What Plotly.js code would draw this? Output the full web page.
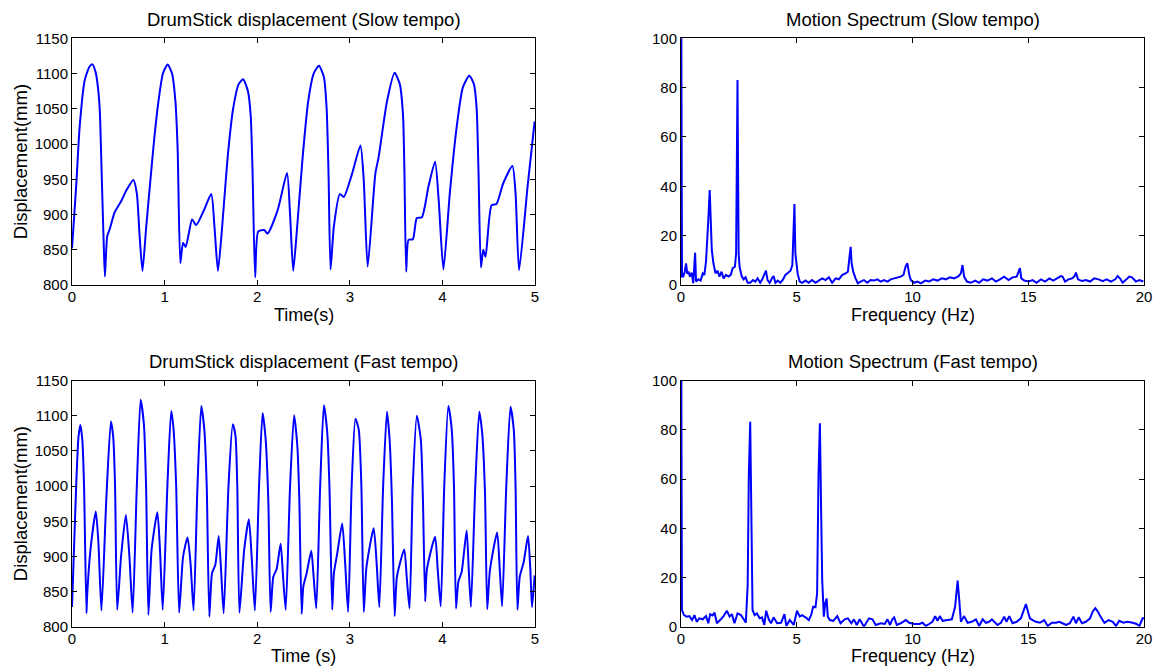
<!DOCTYPE html>
<html>
<head>
<meta charset="utf-8">
<script src="https://cdn.plot.ly/plotly-3.0.1.min.js"></script>
<style>html,body{margin:0;padding:0;background:#fff;}#chart{width:1154px;height:668px;}</style>
</head>
<body>
<div id="chart"></div>
<script>
// ---- Slow tempo displacement (time s, displacement mm) ----
var slowT = [0.000,0.045,0.083,0.138,0.190,0.221,0.255,0.283,0.301,0.320,0.340,0.355,
0.380,0.409,0.460,0.535,0.590,0.663,0.700,0.730,0.761,
0.800,0.844,0.890,0.935,0.982,1.033,1.080,1.116,1.141,1.170,
1.199,1.228,1.297,1.341,1.424,1.504,1.540,1.576,
1.620,1.680,1.740,1.800,1.848,1.900,1.930,1.950,1.978,
2.011,2.076,2.112,2.221,2.322,2.355,2.389,
2.430,2.490,2.550,2.610,2.667,2.720,2.750,2.770,2.792,
2.828,2.892,2.936,3.025,3.115,3.150,3.193,
3.276,3.312,3.401,3.484,3.540,3.575,3.590,3.609,
3.634,3.681,3.724,3.778,3.850,3.921,3.960,4.011,
4.080,4.155,4.220,4.290,4.340,4.370,4.390,4.416,
4.441,4.466,4.530,4.584,4.656,4.756,4.790,4.828,
4.920,4.996];
var slowV = [852,940,1025,1091,1110,1113,1102,1077,1045,960,870,812,
869,880,903,920,935,949,930,870,820,
880,945,1010,1062,1100,1113,1100,1062,992,831,
860,854,893,885,906,929,880,820,
880,980,1050,1085,1092,1075,1040,960,811,
876,878,873,906,959,900,820,
880,980,1060,1100,1111,1095,1050,960,822,
883,929,925,958,998,950,826,
958,982,1060,1101,1085,1040,960,819,
864,865,895,896,940,975,920,822,
930,1025,1080,1097,1085,1050,960,825,
850,840,913,915,944,969,930,821,
940,1032];

// ---- Fast tempo displacement ----
var fastT = [0.000,0.045,0.070,0.090,0.112,0.130,0.156,
0.163,0.200,0.257,0.285,0.318,
0.370,0.420,0.445,0.465,0.488,
0.530,0.582,0.620,0.655,
0.700,0.741,0.777,0.800,0.825,
0.860,0.922,0.950,0.980,
1.030,1.071,1.096,1.125,1.157,
1.200,1.248,1.280,1.313,
1.355,1.396,1.429,1.455,1.483,
1.512,1.548,1.584,1.610,1.638,
1.690,1.736,1.765,1.785,1.808,
1.860,1.910,1.940,1.975,
2.020,2.058,2.090,2.120,2.145,
2.174,2.210,2.253,2.280,2.308,
2.355,2.398,2.434,2.455,2.480,
2.498,2.534,2.584,2.610,2.638,
2.680,2.720,2.756,2.780,2.810,
2.828,2.864,2.918,2.950,2.982,
3.020,3.061,3.097,3.125,3.151,
3.180,3.258,3.290,3.319,
3.360,3.401,3.430,3.455,3.484,
3.509,3.588,3.615,3.645,
3.680,3.724,3.767,3.790,3.814,
3.832,3.921,3.950,3.982,
4.020,4.064,4.100,4.125,4.147,
4.172,4.208,4.262,4.285,4.308,
4.355,4.398,4.430,4.460,4.484,
4.513,4.591,4.620,4.645,
4.690,4.735,4.771,4.790,4.810,
4.835,4.878,4.925,4.950,4.968,
4.996];
var fastV = [828,1000,1070,1087,1065,1000,819,
843,910,964,920,823,
980,1092,1070,1000,824,
900,959,900,820,
1000,1123,1087,1000,817,
910,963,910,824,
1000,1107,1082,1000,820,
900,927,890,823,
1000,1114,1080,1000,814,
876,888,929,880,819,
1000,1088,1072,1000,820,
910,953,900,823,
1000,1104,1069,980,821,
871,882,918,870,824,
1000,1101,1056,980,818,
857,876,908,870,826,
1000,1115,1077,1000,824,
876,904,947,890,821,
1000,1096,1080,1000,821,
885,940,890,828,
1000,1106,1066,980,815,
871,910,870,826,
1000,1100,1066,980,836,
881,928,880,829,
1000,1114,1082,1000,826,
864,878,937,880,828,
1000,1106,1075,990,825,
880,934,880,829,
1000,1113,1080,1000,824,
871,892,929,880,828,
873];

// ---- Slow tempo spectrum (Hz, magnitude) ----
var slowF = [0,0.043,0.10,0.16,0.22,0.27,0.32,0.39,0.46,0.53,0.61,0.65,0.75,0.85,0.94,1.01,1.08,1.14,1.18,1.24,1.29,1.33,1.40,1.49,1.58,1.66,1.75,1.84,1.94,2.05,2.15,2.23,2.33,2.38,2.44,2.49,2.53,2.62,2.70,2.79,2.88,2.99,3.11,3.21,3.31,3.42,3.51,3.60,3.67,3.74,3.83,3.93,4.00,4.08,4.18,4.29,4.41,4.51,4.61,4.73,4.81,4.86,4.90,4.94,4.99,5.04,5.13,5.23,5.38,5.52,5.66,5.81,5.95,6.10,6.24,6.39,6.53,6.68,6.82,6.97,7.11,7.21,7.28,7.33,7.37,7.44,7.54,7.64,7.76,7.90,8.05,8.19,8.34,8.48,8.63,8.77,8.92,9.06,9.21,9.35,9.49,9.61,9.70,9.78,9.86,9.93,10.07,10.22,10.36,10.55,10.72,10.89,11.08,11.27,11.44,11.61,11.80,11.99,12.09,12.16,12.23,12.35,12.52,12.71,12.88,13.05,13.24,13.43,13.60,13.78,13.96,14.15,14.32,14.50,14.58,14.64,14.70,14.83,15.01,15.19,15.36,15.55,15.73,15.91,16.08,16.27,16.41,16.48,16.59,16.74,16.89,16.99,17.06,17.15,17.32,17.49,17.67,17.85,18.04,18.21,18.39,18.57,18.76,18.86,18.96,19.08,19.25,19.37,19.48,19.65,19.80,19.97];
var slowA = [150,3.4,3.4,5.4,8.8,4.5,5.4,3.4,5.0,0.7,13.1,1.4,2.3,1.8,4.7,4.1,9.5,18.2,26.4,38.5,21,14.2,8.8,4.7,5.8,3.4,5.4,2.7,4.1,3.4,4.1,6.8,7.4,12.8,83.1,12.8,7.4,3.6,2.3,3.1,0.9,0.9,2.0,1.4,2.7,0.9,2.3,4.7,5.8,2.0,0.9,2.7,3.6,0.9,1.8,0.9,2.3,4.1,5.0,5.8,8.1,18.2,32.8,12.8,6.8,4.5,1.4,0.9,1.8,0.9,2.0,0.9,1.8,2.7,2.0,3.1,0.9,2.7,2.3,4.1,4.7,5.4,11.5,15.5,8.8,5.4,2.7,0.7,1.4,2.0,0.9,2.0,1.8,2.3,1.4,2.0,1.4,2.3,2.7,3.1,3.4,4.1,7.4,8.8,4.1,2.0,0.9,1.4,0.7,1.8,1.4,2.3,1.8,2.7,2.3,3.1,2.7,3.6,4.7,8.1,3.4,1.4,0.9,1.8,0.9,2.3,1.8,2.7,1.4,2.3,3.4,2.0,3.1,3.4,5.0,6.8,2.7,1.8,1.4,2.0,0.9,2.3,1.4,2.7,1.8,2.7,3.6,3.4,1.4,2.3,2.7,3.4,5.0,2.3,1.6,2.0,1.4,2.7,2.3,1.6,2.3,1.4,2.3,3.6,2.7,0.9,2.3,3.4,3.1,1.4,2.0,1.4];

// ---- Fast tempo spectrum ----
var fastF = [0,0.04,0.13,0.25,0.36,0.48,0.58,0.68,0.79,0.94,1.08,1.18,1.26,1.36,1.45,1.55,1.69,1.84,1.98,2.10,2.20,2.31,2.44,2.59,2.73,2.80,2.88,2.93,2.99,3.03,3.09,3.18,3.28,3.40,3.50,3.60,3.68,3.79,3.89,4.00,4.15,4.32,4.47,4.55,4.70,4.87,5.01,5.13,5.23,5.38,5.52,5.62,5.71,5.81,5.88,5.94,6.00,6.05,6.10,6.17,6.23,6.29,6.34,6.43,6.58,6.75,6.89,7.07,7.21,7.36,7.47,7.59,7.72,7.90,8.12,8.27,8.41,8.63,8.80,8.92,9.03,9.13,9.21,9.32,9.49,9.71,9.86,10.07,10.29,10.43,10.58,10.72,10.86,10.98,11.08,11.18,11.30,11.51,11.70,11.84,11.95,12.02,12.09,12.23,12.38,12.56,12.74,12.88,13.03,13.17,13.31,13.43,13.57,13.67,13.82,13.96,14.06,14.18,14.32,14.50,14.68,14.78,14.90,14.99,15.07,15.19,15.33,15.50,15.69,15.84,16.02,16.20,16.34,16.48,16.63,16.80,16.95,17.06,17.18,17.32,17.49,17.67,17.78,17.90,18.01,18.14,18.29,18.47,18.65,18.79,18.93,19.11,19.29,19.51,19.68,19.80,19.94,20.0];
var fastA = [150,6.8,4.7,4.1,4.3,2.7,4.7,2.0,3.4,3.0,4.3,1.4,5.1,4.6,5.7,1.4,2.7,4.3,6.5,4.1,5.1,1.4,5.4,4.7,2.7,1.6,16.9,62,83.3,48.8,6.8,4.7,5.4,3.4,3.8,0.7,6.5,3.0,1.4,3.8,1.4,1.6,5.1,0.3,2.7,0.7,6.5,4.1,4.7,3.8,2.7,4.7,8.1,7.9,13.6,62,82.7,48.8,19.0,4.1,9.5,11.5,4.1,2.7,2.4,4.3,1.4,3.0,3.4,1.4,3.0,0.7,3.0,0,3.4,3.0,0.7,1.4,1.1,3.0,0.7,3.0,3.8,0.7,1.4,2.7,1.6,1.1,1.1,1.6,0.3,1.1,2.0,4.3,2.4,4.3,2.4,2.7,3.0,8.1,18.7,10.8,2.0,4.3,1.6,2.0,3.0,0.3,3.0,1.6,2.0,3.0,1.4,0.7,1.6,4.1,2.0,4.3,1.4,2.0,3.4,6.1,9.2,6.1,3.4,2.7,2.0,1.6,2.7,0.3,1.6,1.6,2.0,1.4,0.7,1.4,4.1,1.4,3.8,1.4,2.0,3.4,6.1,7.5,6.1,3.8,1.6,2.7,2.0,0.3,2.4,1.6,2.0,1.6,1.1,0.3,3.4,3.4];

var titles = ['DrumStick displacement (Slow tempo)','Motion Spectrum (Slow tempo)',
              'DrumStick displacement (Fast tempo)','Motion Spectrum (Fast tempo)'];
var xTitles = ['Time(s)','Frequency (Hz)','Time (s)','Frequency (Hz)'];
var yTitle = 'Displacement(mm)';

var FONT = 'Liberation Sans, Arial, Helvetica, sans-serif';
var blue = 'rgb(0,0,255)';

var traces = [
  {x: slowT, y: slowV, xaxis:'x', yaxis:'y', mode:'lines', line:{color:blue, width:2, shape:'spline', smoothing:0.6}},
  {x: slowF, y: slowA, xaxis:'x2', yaxis:'y2', mode:'lines', line:{color:blue, width:2}},
  {x: fastT, y: fastV, xaxis:'x3', yaxis:'y3', mode:'lines', line:{color:blue, width:2, shape:'spline', smoothing:0.6}},
  {x: fastF, y: fastA, xaxis:'x4', yaxis:'y4', mode:'lines', line:{color:blue, width:2}}
];

function ax(extra){
  var a = {showgrid:false, zeroline:false, showline:true, mirror:'ticks', linecolor:'#000', linewidth:1,
    ticks:'inside', ticklen:5, tickwidth:1, tickcolor:'#000', tickmode:'linear',
    tickfont:{family:FONT, size:15, color:'#000'}, fixedrange:true};
  for (var k in extra) a[k] = extra[k];
  return a;
}
var W = 1154, H = 668;
var xdL = [72/W, 535/W], xdR = [681/W, 1144/W];
var ydT = [(H-285)/H, (H-38.3)/H], ydB = [(H-626.7)/H, (H-380.7)/H];

var layout = {
  width: W, height: H, margin:{l:0,r:0,t:0,b:0}, showlegend:false,
  paper_bgcolor:'#fff', plot_bgcolor:'#fff',
  xaxis:  ax({domain:xdL, anchor:'y',  range:[0,5],  tick0:0, dtick:1, ticklabelstandoff:-2}),
  yaxis:  ax({domain:ydT, anchor:'x',  range:[800,1150], tick0:800, dtick:50}),
  xaxis2: ax({domain:xdR, anchor:'y2', range:[0,20], tick0:0, dtick:5, ticklabelstandoff:-2}),
  yaxis2: ax({domain:ydT, anchor:'x2', range:[0,100], tick0:0, dtick:20}),
  xaxis3: ax({domain:xdL, anchor:'y3', range:[0,5],  tick0:0, dtick:1, ticklabelstandoff:-2}),
  yaxis3: ax({domain:ydB, anchor:'x3', range:[800,1150], tick0:800, dtick:50}),
  xaxis4: ax({domain:xdR, anchor:'y4', range:[0,20], tick0:0, dtick:5, ticklabelstandoff:-2}),
  yaxis4: ax({domain:ydB, anchor:'x4', range:[0,100], tick0:0, dtick:20}),
  annotations: []
};

var xds = [xdL, xdR, xdL, xdR], yds = [ydT, ydT, ydB, ydB];
for (var i = 0; i < 4; i++) {
  var cx = (xds[i][0] + xds[i][1]) / 2;
  layout.annotations.push({text: titles[i], xref:'paper', yref:'paper', x: cx, y: yds[i][1],
    xanchor:'center', yanchor:'middle', yshift:19, showarrow:false, font:{family:FONT, size:18.5, color:'#000'}});
  layout.annotations.push({text: xTitles[i], xref:'paper', yref:'paper', x: cx, y: yds[i][0],
    xanchor:'center', yanchor:'middle', yshift:-29.5, showarrow:false, borderpad:0, font:{family:FONT, size:18, color:'#000'}});
}
[ydT, ydB].forEach(function(d){
  layout.annotations.push({text: yTitle, xref:'paper', yref:'paper', x: 20.5/W, y:(d[0]+d[1])/2,
    xanchor:'center', yanchor:'middle', textangle:-90, showarrow:false, font:{family:FONT, size:18.5, color:'#000'}});
});

Plotly.newPlot('chart', traces, layout, {displayModeBar:false, staticPlot:true});
</script>
</body>
</html>
